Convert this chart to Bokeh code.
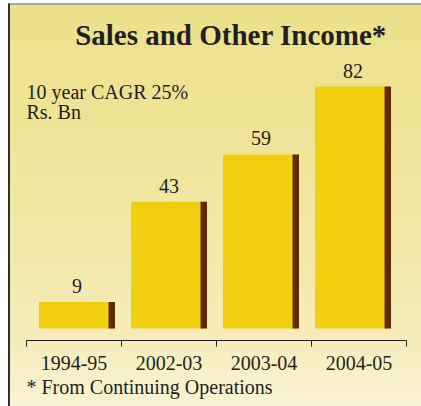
import numpy as np
from bokeh.plotting import figure
from bokeh.models import Range1d, FixedTicker, ColumnDataSource
from bokeh.core.properties import value
from bokeh.embed import file_html
from bokeh.resources import INLINE

# ---- data ----
categories = ["1994-95", "2002-03", "2003-04", "2004-05"]
sales = [9, 43, 59, 82]
title_text = "Sales and Other Income*"
note_lines = ["10 year CAGR 25%", "Rs. Bn"]
footnote = "* From Continuing Operations"

# ---- layout constants (pixel positions on the canvas) ----
W, H = 421, 406
PX_X = 95.0            # px per category on the axis
AX_LEFT = 26           # px of axis start
PX_Y = 2.95            # px per unit (y)
BASE = 328             # px of value 0
AXIS_PX = 340          # px of the axis line
FONT = "Liberation Serif"
INK = "#231f20"
BL = 0.4               # baseline correction (fraction of font size)


def xd(px):
    return (px - AX_LEFT) / PX_X


def yd(py, fs=0):
    return (BASE - (py - BL * fs)) / PX_Y


n = len(categories)
p = figure(width=W, height=H, output_backend="svg", toolbar_location=None,
           x_range=Range1d(xd(0), xd(W)), y_range=Range1d(yd(H), yd(0)),
           y_axis_location=None, min_border_left=0, min_border_right=0,
           min_border_top=0, min_border_bottom=0)
bs = -0.3315
p.extra_x_ranges = {"bars": Range1d(bs, bs + W / 92)}
p.outline_line_color = None
p.grid.visible = False
p.border_fill_color = "white"
p.background_fill_color = "white"

# background gradient (panel)
rows = 200
py = np.linspace(H, 4, rows)  # bottom -> top in pixels
stops_px = [4, 120, 240, 340, 406]
stops_rgb = np.array([[236, 226, 140], [238, 228, 150], [242, 233, 168],
                      [246, 237, 188], [250, 243, 212]])
cols = np.stack([np.interp(py, stops_px, stops_rgb[:, k]) for k in range(3)],
                axis=1).astype(np.uint32)
img = (255 << 24) | (cols[:, 2] << 16) | (cols[:, 1] << 8) | cols[:, 0]
img = img.reshape(rows, 1)
p.image_rgba(image=[img], x=xd(8), y=yd(H), dw=xd(W) - xd(8), dh=yd(4) - yd(H))

# panel border
p.segment(x0=[xd(8)], y0=[yd(3.5)], x1=[xd(W)], y1=[yd(3.5)],
          line_color="#8c8c8c", line_width=1.5)
p.segment(x0=[xd(8.5)], y0=[yd(3)], x1=[xd(8.5)], y1=[yd(H)],
          line_color="#2f2f2f", line_width=2)

# bars
xs = [i + 0.5 for i in range(n)]
bw = 0.826
sw = 0.07
lab_gap = (8 + BL * 20) / PX_Y
src = ColumnDataSource(dict(x=xs, top=sales, lab=[str(v) for v in sales],
                            ly=[v + lab_gap for v in sales],
                            xs=[x + bw / 2 - sw / 2 for x in xs]))
p.vbar(x="x", top="top", bottom=0, width=bw, source=src, x_range_name="bars",
       fill_color="#f1ce0e", line_color=None)
p.vbar(x="xs", top="top", bottom=0, width=sw, source=src, x_range_name="bars",
       fill_color="#5e2a08", line_color=None)
p.text(x="x", y="ly", text="lab", source=src, x_range_name="bars",
       text_align="center", text_baseline="alphabetic",
       text_font=value(FONT), text_font_size="20px", text_color=INK)

# title and notes
p.text(x=[xd(230.5)], y=[yd(46.5, 29)], text=[title_text],
       text_align="center", text_baseline="alphabetic",
       text_font=value(FONT), text_font_style="bold",
       text_font_size="29px", text_color=INK)
p.text(x=[0, 0], y=[yd(99.5, 20), yd(119.3, 20)], text=note_lines,
       text_align="left", text_baseline="alphabetic",
       text_font=value(FONT), text_font_size="20px", text_color=INK)
p.text(x=[0], y=[yd(394, 20)], text=[footnote],
       text_align="left", text_baseline="alphabetic",
       text_font=value(FONT), text_font_size="20px", text_color=INK)

# axis
ax = p.xaxis[0]
ax.fixed_location = yd(AXIS_PX)
ax.ticker = FixedTicker(ticks=xs, minor_ticks=list(range(n + 1)))
ax.major_label_overrides = {x: c for x, c in zip(xs, categories)}
ax.bounds = (0, n)
ax.axis_line_color = INK
ax.minor_tick_line_color = INK
ax.minor_tick_in = 0
ax.minor_tick_out = 6
ax.major_tick_in = 0
ax.major_tick_out = 0
ax.major_label_standoff = 9
ax.major_label_text_font = FONT
ax.major_label_text_font_size = "20px"
ax.major_label_text_color = INK

open("out.html", "w").write(file_html(p, INLINE))
